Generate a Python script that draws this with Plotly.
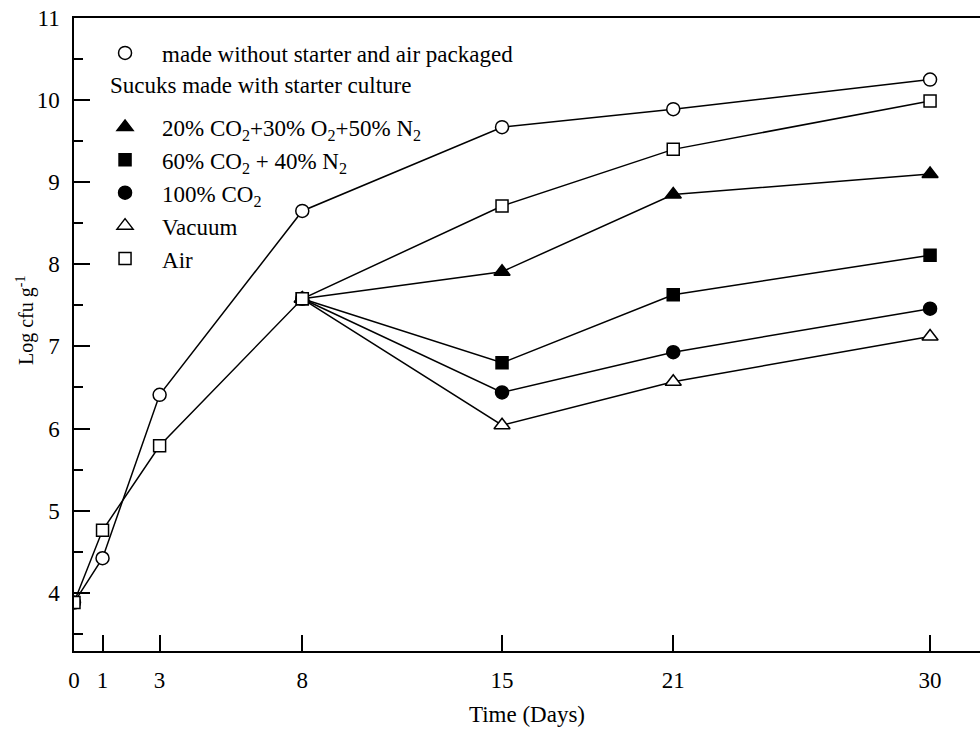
import plotly.graph_objects as go

days_all = [0, 1, 3, 8, 15, 21, 30]
days_branch = [8, 15, 21, 30]

no_starter_air = [3.88, 4.42, 6.41, 8.65, 9.67, 9.89, 10.25]
starter_air = [3.88, 4.76, 5.79, 7.58, 8.71, 9.40, 9.99]
mix_20_30_50 = [7.58, 7.91, 8.85, 9.10]
mix_60_40 = [7.58, 6.80, 7.63, 8.11]
co2_100 = [7.58, 6.44, 6.93, 7.46]
vacuum = [7.58, 6.04, 6.57, 7.12]

x_ticks = [0, 1, 3, 8, 15, 21, 30]
y_ticks = [4, 5, 6, 7, 8, 9, 10, 11]

FONT = "Liberation Serif"
BLACK = "#000000"
WHITE = "#ffffff"

fig = go.Figure()

def add(x, y, name, symbol, fill, size, legend, rank):
    fig.add_trace(go.Scatter(
        x=x, y=y, mode="lines+markers", name=name, showlegend=False,
        line=dict(color=BLACK, width=1.5),
        marker=dict(symbol=symbol, size=size, color=fill,
                    line=dict(color=BLACK, width=1.5)),
    ))
    # legend key (marker only)
    fig.add_trace(go.Scatter(
        x=[None], y=[None], mode="markers", name=name, showlegend=True,
        legend=legend, legendrank=rank,
        marker=dict(symbol=symbol, size=size, color=fill,
                    line=dict(color=BLACK, width=1.5)),
    ))

add(days_branch, mix_20_30_50, "20% CO<sub>2</sub>+30% O<sub>2</sub>+50% N<sub>2</sub>",
    "triangle-up", BLACK, 14, "legend2", 1)
add(days_branch, mix_60_40, "60% CO<sub>2</sub> + 40% N<sub>2</sub>", "square", BLACK, 12, "legend2", 2)
add(days_branch, co2_100, "100% CO<sub>2</sub>", "circle", BLACK, 13, "legend2", 3)
add(days_branch, vacuum, "Vacuum", "triangle-up", WHITE, 14, "legend2", 4)
add(days_all, no_starter_air, "made without starter and air packaged", "circle", WHITE, 13, "legend", 1)
add(days_all, starter_air, "Air", "square", WHITE, 12, "legend2", 5)

legend_common = dict(
    xanchor="left", yanchor="top", bgcolor="rgba(0,0,0,0)",
    itemwidth=64, font=dict(family=FONT, size=23, color=BLACK),
)

fig.update_layout(
    width=980, height=731,
    margin=dict(l=74, r=0, t=18, b=80),
    paper_bgcolor=WHITE, plot_bgcolor=WHITE,
    font=dict(family=FONT, size=23, color=BLACK),
    showlegend=True,
    legend=dict(x=0.0155, y=0.9787, **legend_common),
    legend2=dict(x=0.0155, y=0.8618, **legend_common),
    annotations=[
        dict(text="Sucuks made with starter culture", xref="paper", yref="paper",
             x=(108 - 74) / 906, y=1 - (85 - 18) / 633, xanchor="left", yanchor="middle",
             showarrow=False, font=dict(family=FONT, size=23, color=BLACK)),
        dict(text="Log cfu g<sup>-1</sup>", xref="paper", yref="paper",
             x=(26 - 74) / 906, y=1 - (321 - 18) / 633, xanchor="center", yanchor="middle",
             textangle=-90, showarrow=False, font=dict(family=FONT, size=20, color=BLACK)),
    ],
    xaxis=dict(
        range=[0, 31.75], tickvals=x_ticks, ticktext=[str(v) for v in x_ticks],
        showline=True, linecolor=BLACK, linewidth=1.5, mirror=True,
        ticks="inside", ticklen=16, tickwidth=1.5, tickcolor=BLACK,
        showgrid=False, zeroline=False, ticklabelstandoff=8,
        tickfont=dict(family=FONT, size=23, color=BLACK),
        title=dict(text="Time (Days)", font=dict(family=FONT, size=23, color=BLACK), standoff=14),
    ),
    yaxis=dict(
        range=[3.29, 11], tickvals=y_ticks,
        showline=True, linecolor=BLACK, linewidth=1.5,
        ticks="inside", ticklen=16, tickwidth=1.5, tickcolor=BLACK,
        minor=dict(dtick=0.5, tick0=0, ticks="inside", ticklen=9, tickwidth=1.5, tickcolor=BLACK, showgrid=False),
        showgrid=False, zeroline=False, ticklabelstandoff=8,
        tickfont=dict(family=FONT, size=23, color=BLACK),
    ),
)

fig.write_html("out.html")
